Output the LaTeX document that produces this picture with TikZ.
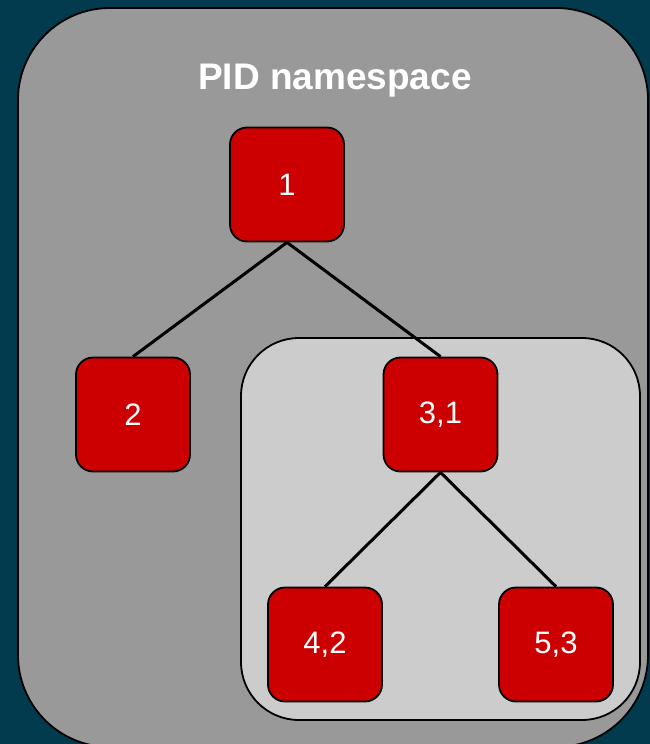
\documentclass[tikz,border=0pt]{standalone}
\usepackage{fontspec}
\setmainfont{Liberation Sans}
\definecolor{deepteal}{RGB}{2,59,78}
\definecolor{nsgray}{RGB}{153,153,153}
\definecolor{childgray}{RGB}{204,204,204}
\definecolor{procred}{RGB}{204,0,0}
\begin{document}
\begin{tikzpicture}[x=1pt,y=-1pt,
  proc/.style={draw=black,line width=1.8pt,fill=procred,rounded corners=17pt,
    minimum width=114pt,minimum height=114pt,inner sep=0pt,
    text=white,font=\fontsize{31}{31}\selectfont},
  nsbox/.style={draw=black,line width=1.8pt},
  link/.style={draw=black,line width=3pt}]
  % canvas
  \fill[deepteal] (0,0) rectangle (650,744);
  \useasboundingbox (0,0) rectangle (650,744);
  % outer PID namespace
  \path[nsbox,fill=nsgray,rounded corners=92pt] (18,8) rectangle (648,747);
  \node[text=white,font=\fontsize{37}{37}\selectfont\bfseries] (title) at (335,81) {PID namespace};
  % child namespace
  \path[nsbox,fill=childgray,rounded corners=58pt] (241,338) rectangle (640,720);
  % processes
  \node[proc] (p1) at (287,184.5) {1};
  \node[proc] (p2) at (133,414.5) {2};
  \node[proc] (p3) at (440.5,414.5) {3,1};
  \node[proc] (p4) at (325,644.5) {4,2};
  \node[proc] (p5) at (556,644.5) {5,3};
  % parent-child links
  \draw[link] (p1.south) -- (p2.north);
  \draw[link] (p1.south) -- (p3.north);
  \draw[link] (p3.south) -- (p4.north);
  \draw[link] (p3.south) -- (p5.north);
\end{tikzpicture}
\end{document}
